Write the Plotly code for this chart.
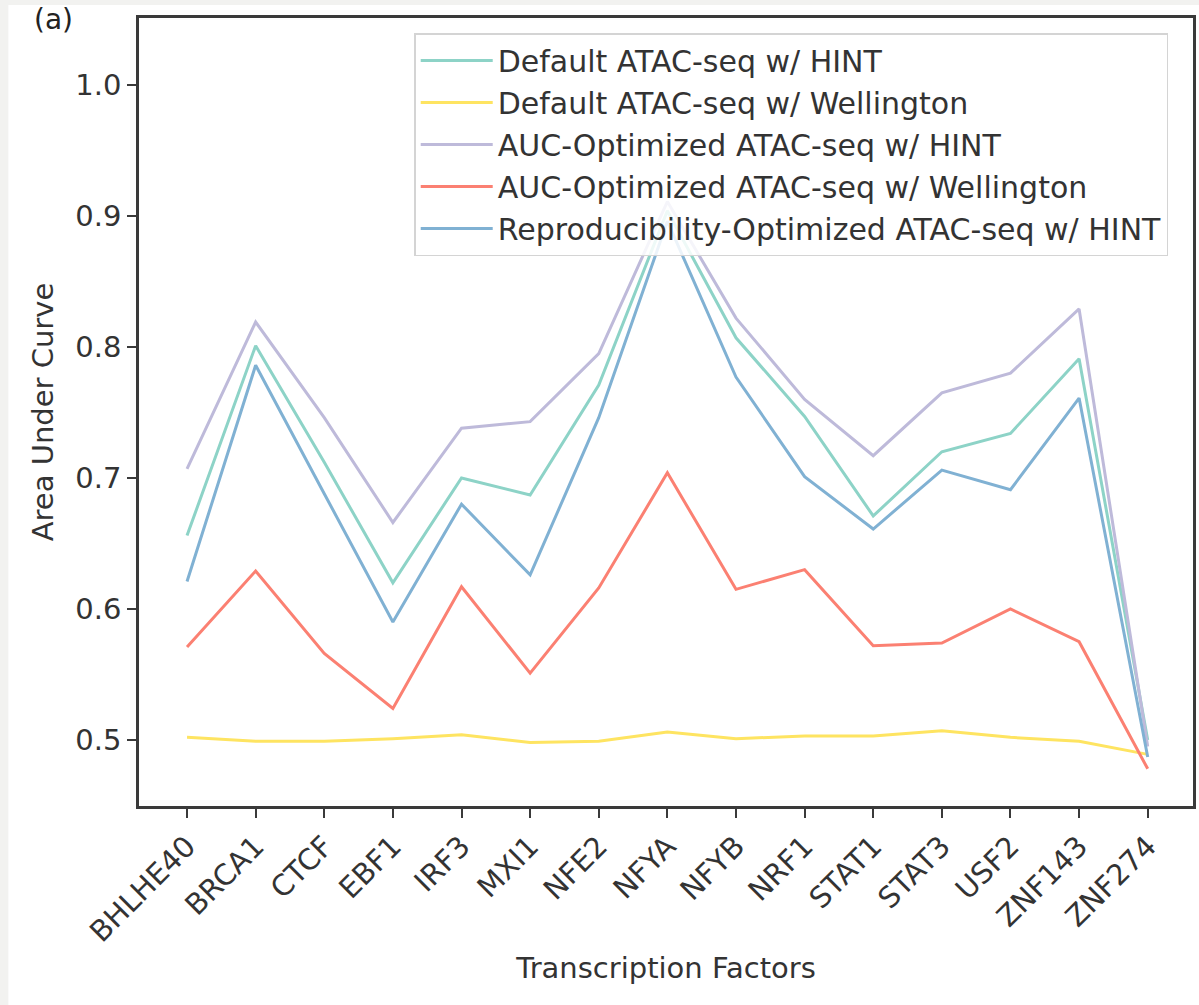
import plotly.graph_objects as go

factors = ["BHLHE40", "BRCA1", "CTCF", "EBF1", "IRF3", "MXI1", "NFE2", "NFYA",
           "NFYB", "NRF1", "STAT1", "STAT3", "USF2", "ZNF143", "ZNF274"]

default_hint = [0.656, 0.801, 0.712, 0.620, 0.700, 0.687, 0.771, 0.904,
                0.807, 0.747, 0.671, 0.720, 0.734, 0.791, 0.500]
default_wellington = [0.502, 0.499, 0.499, 0.501, 0.504, 0.498, 0.499, 0.506,
                      0.501, 0.503, 0.503, 0.507, 0.502, 0.499, 0.489]
auc_hint = [0.707, 0.819, 0.746, 0.666, 0.738, 0.743, 0.795, 0.911,
            0.822, 0.760, 0.717, 0.765, 0.780, 0.829, 0.495]
auc_wellington = [0.571, 0.629, 0.566, 0.524, 0.617, 0.551, 0.616, 0.704,
                  0.615, 0.630, 0.572, 0.574, 0.600, 0.575, 0.478]
repro_hint = [0.621, 0.786, 0.688, 0.590, 0.680, 0.626, 0.746, 0.896,
              0.777, 0.701, 0.661, 0.706, 0.691, 0.761, 0.487]

series_names = ["Default ATAC-seq w/ HINT",
                "Default ATAC-seq w/ Wellington",
                "AUC-Optimized ATAC-seq w/ HINT",
                "AUC-Optimized ATAC-seq w/ Wellington",
                "Reproducibility-Optimized ATAC-seq w/ HINT"]
series_values = [default_hint, default_wellington, auc_hint, auc_wellington, repro_hint]
series_colors = ["#8dd3c7", "#fee461", "#bebada", "#fb8072", "#80b1d3"]

y_ticks = [0.5, 0.6, 0.7, 0.8, 0.9, 1.0]

FONT = "DejaVu Sans"
TXT = "#333333"

fig = go.Figure()
for name, vals, col in zip(series_names, series_values, series_colors):
    fig.add_trace(go.Scatter(
        x=factors, y=vals, mode="lines", name=name,
        line=dict(color=col, width=3),
    ))

# plot area: x 139..1196, y 18..806 in a 1199x1005 page
L, R, T, B = 139, 3, 18, 199
W, H = 1199, 1005
pw, ph = W - L - R, H - T - B

def px_to_paper_x(px):
    return (px - L) / pw

def px_to_paper_y(py):
    return (H - B - py) / ph

fig.update_layout(
    width=W, height=H,
    margin=dict(l=L, r=R, t=T, b=B, pad=0),
    paper_bgcolor="#f2f2f0",
    plot_bgcolor="white",
    font=dict(family=FONT, size=29, color=TXT),
    showlegend=True,
    legend=dict(
        x=px_to_paper_x(415), y=px_to_paper_y(33),
        xanchor="left", yanchor="top",
        bgcolor="rgba(255,255,255,0.85)",
        bordercolor="#d4d4d4", borderwidth=1.5,
        font=dict(family=FONT, size=30, color=TXT),
        itemwidth=72,
        tracegroupgap=0,
    ),
    shapes=[dict(
        type="rect", xref="paper", yref="paper", layer="below",
        x0=px_to_paper_x(8), x1=1.05, y0=-0.5, y1=px_to_paper_y(5),
        fillcolor="white", line=dict(width=0),
    )],
    annotations=[dict(
        text="(a)", xref="paper", yref="paper", showarrow=False,
        x=px_to_paper_x(53), y=px_to_paper_y(1),
        xanchor="center", yanchor="top",
        font=dict(family=FONT, size=28, color="#222222"),
    )],
)

fig.update_xaxes(
    type="category",
    range=[-0.70, 14.66],
    tickangle=-45,
    ticks="outside", ticklen=9, tickwidth=2, tickcolor="#3a3a3a",
    showline=True, linecolor="#3a3a3a", linewidth=2.5, mirror=True,
    showgrid=False, zeroline=False,
    tickfont=dict(family=FONT, size=29, color=TXT),
    title=dict(text="Transcription Factors", font=dict(family=FONT, size=29, color=TXT), standoff=11),
)
fig.update_yaxes(
    range=[0.4496, 1.0511],
    tickvals=y_ticks,
    ticktext=[f"{v:.1f}" for v in y_ticks],
    ticks="outside", ticklen=9, tickwidth=2, tickcolor="#3a3a3a",
    showline=True, linecolor="#3a3a3a", linewidth=2.5, mirror=True,
    showgrid=False, zeroline=False,
    tickfont=dict(family=FONT, size=29, color=TXT),
    title=dict(text="Area Under Curve", font=dict(family=FONT, size=29, color=TXT), standoff=14),
)

fig.write_html("out.html")
